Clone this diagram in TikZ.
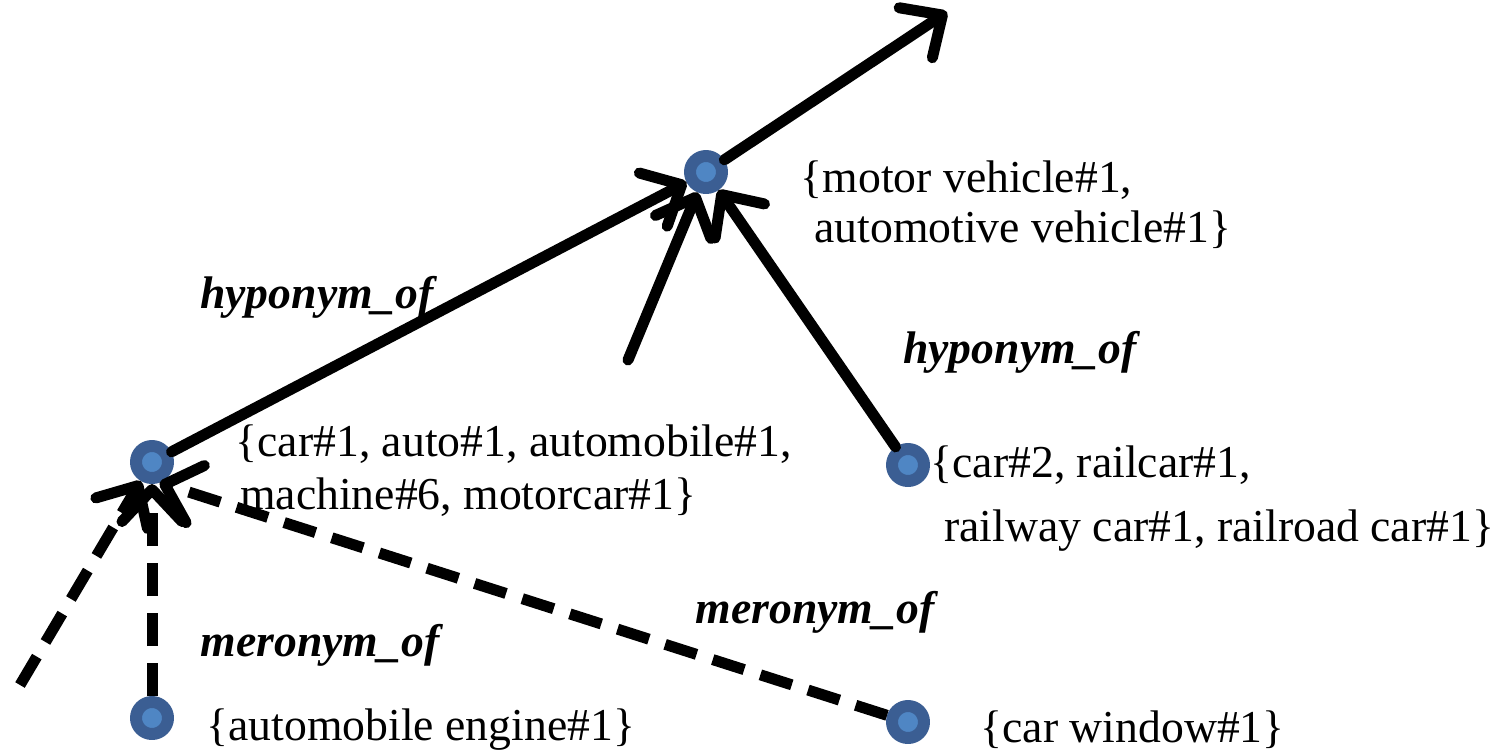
\documentclass[tikz,border=0pt]{standalone}
\usepackage{fontspec}
\setmainfont{Liberation Serif}
\usepackage{tikz}
\usetikzlibrary{arrows.meta}

\definecolor{dotdark}{HTML}{3B5E93}
\definecolor{dotlight}{HTML}{4F86C4}

\begin{document}
\begin{tikzpicture}[
    line cap = round, line join = round,
    synset/.style = {circle, draw = dotdark, fill = dotlight, line width = 0.12cm,
                     minimum size = 0.32cm, inner sep = 0pt},
    isa/.style = {line width = 0.11cm, -{Straight Barb[length=3.2mm, width=6mm, round]}},
    partof/.style = {isa, dash pattern = on 0.33cm off 0.17cm, line cap = butt},
    gloss/.style = {anchor = north west, inner sep = 0pt, align = left,
                    font = \fontsize{13}{14.2}\selectfont},
    rel/.style = {font = \fontsize{13}{14}\selectfont\bfseries\itshape}
  ]
  \useasboundingbox (0,0) rectangle (15.07,7.52);

  % synsets
  \node[synset] (motor)  at (7.06,5.80) {};
  \node[synset] (car)    at (1.52,2.90) {};
  \node[synset] (rail)   at (9.08,2.87) {};
  \node[synset] (engine) at (1.52,0.34) {};
  \node[synset] (window) at (9.08,0.30) {};

  % loose ends
  \coordinate (up)   at (9.47,7.40);
  \coordinate (mid)  at (6.28,3.92);
  \coordinate (low)  at (0.20,0.67);

  % synset texts
  \node[gloss] (motortxt)  at (8.00,5.92)
    {\{motor vehicle\#1,\\ \hspace*{0.3em}automotive vehicle\#1\}};
  \node[gloss] (cartxt)    at (2.35,3.28)
    {\{car\#1, auto\#1, automobile\#1,\\[1pt] \hspace*{0.1em}machine\#6, motorcar\#1\}};
  \node[gloss] (railtxt)   at (9.30,3.07)
    {\{car\#2, railcar\#1,\\[4pt] \hspace*{0.3em}railway car\#1, railroad car\#1\}};
  \node[gloss] (enginetxt) at (2.06,0.44) {\{automobile engine\#1\}};
  \node[gloss] (windowtxt) at (9.80,0.42) {\{car window\#1\}};

  % Relations
  \draw[isa] (motor) -- (up);
  \draw[isa] (car) -- (motor);
  \draw[isa] (mid) -- (motor);
  \draw[isa] (rail) -- (motor);
  \draw[partof] (low) -- (car);
  \draw[partof] (engine) -- (car);
  \draw[partof] (window) -- (car.-70);

  % Labels
  \node[rel] (hyp1) at (3.17,4.55) {hyponym\_of};
  \node[rel] (hyp2) at (10.20,4.00) {hyponym\_of};
  \node[rel] (mer1) at (3.20,1.07) {meronym\_of};
  \node[rel] (mer2) at (8.15,1.40) {meronym\_of};
\end{tikzpicture}
\end{document}
